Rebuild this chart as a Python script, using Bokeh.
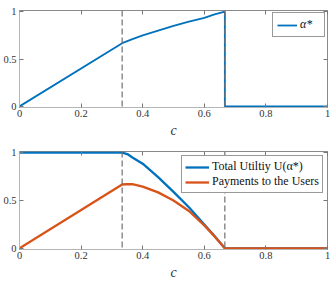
from bokeh.plotting import figure
from bokeh.layouts import column
from bokeh.models import Span, FixedTicker, LinearAxis, Legend, LegendItem, Range1d
from bokeh.embed import file_html
from bokeh.resources import INLINE

# ---- data ----
c_alpha = [0.0, 0.3333, 0.3667, 0.4, 0.45, 0.5, 0.55, 0.6, 0.6333, 0.6667, 0.6667, 1.0]
alpha = [0.0, 0.667, 0.71, 0.75, 0.80, 0.85, 0.895, 0.935, 0.97, 1.0, 0.0, 0.0]

c_util = [0.0, 0.3333, 0.35, 0.3667, 0.4, 0.45, 0.5, 0.55, 0.6, 0.6333, 0.6667, 1.0]
utility = [1.0, 1.0, 0.985, 0.95, 0.885, 0.745, 0.59, 0.43, 0.25, 0.13, 0.0, 0.0]

c_pay = [0.0, 0.3333, 0.35, 0.3667, 0.4, 0.45, 0.5, 0.55, 0.6, 0.6333, 0.6667, 1.0]
payments = [0.0, 0.667, 0.672, 0.67, 0.645, 0.585, 0.50, 0.39, 0.24, 0.125, 0.0, 0.0]

dashed_top = [0.3333, 0.6667]
dashed_bottom = [0.3333, 0.6667]

x_ticks = [0, 0.2, 0.4, 0.6, 0.8, 1]
x_tick_labels = {0: "0", 0.2: "0.2", 0.4: "0.4", 0.6: "0.6", 0.8: "0.8", 1: "1"}
y_ticks = [0, 0.5, 1]
y_tick_labels = {0: "0", 0.5: "0.5", 1: "1"}
x_label = "c"

BLUE = "#0072BD"
ORANGE = "#D95319"
FONT = "Liberation Serif"
FRAME = "#8a8a8a"
TXT = "#333333"


def make_fig(height, top_border, bottom_border):
    p = figure(width=333, height=height, output_backend="svg", toolbar_location=None,
               x_range=Range1d(0, 1), y_range=Range1d(-0.012, 1.012),
               min_border_left=0, min_border_right=6, min_border_top=top_border,
               min_border_bottom=bottom_border, x_axis_label=x_label)
    p.xgrid.visible = False
    p.ygrid.visible = False
    p.outline_line_color = FRAME
    p.outline_line_width = 1
    p.background_fill_color = "white"
    p.border_fill_color = "white"
    for ax in p.xaxis + p.yaxis:
        ax.axis_line_color = "#b5b5b5"
        ax.major_tick_line_color = "#777777"
        ax.major_tick_in = 4
        ax.major_tick_out = 0
        ax.minor_tick_line_color = None
        ax.major_label_text_font = FONT
        ax.major_label_text_font_size = "10.5px"
        ax.major_label_text_color = TXT
    p.yaxis.major_label_standoff = 3
    p.xaxis.major_label_standoff = 2
    p.xaxis.ticker = FixedTicker(ticks=x_ticks)
    p.xaxis.major_label_overrides = x_tick_labels
    p.yaxis.ticker = FixedTicker(ticks=y_ticks)
    p.yaxis.major_label_overrides = y_tick_labels
    p.xaxis.axis_label_text_font = FONT
    p.xaxis.axis_label_text_font_style = "italic"
    p.xaxis.axis_label_text_font_size = "14px"
    p.xaxis.axis_label_text_color = TXT
    p.xaxis.axis_label_standoff = 3
    top = LinearAxis(ticker=FixedTicker(ticks=x_ticks), major_label_text_font_size="1px",
                     major_label_text_color=None,
                     axis_line_color=None, major_tick_in=4, major_tick_out=0,
                     major_tick_line_color="#777777", minor_tick_line_color=None,
                     major_label_standoff=0)
    right = LinearAxis(ticker=FixedTicker(ticks=y_ticks), major_label_text_font_size="1px",
                       major_label_text_color=None,
                       axis_line_color=None, major_tick_in=4, major_tick_out=0,
                       major_tick_line_color="#777777", minor_tick_line_color=None,
                       major_label_standoff=0)
    p.add_layout(top, "above")
    p.add_layout(right, "right")
    return p


def style_legend(leg, pad, glyph_w):
    leg.label_text_font = FONT
    leg.label_text_font_size = "12px"
    leg.label_text_color = "#111111"
    leg.border_line_color = "#333333"
    leg.border_line_width = 1
    leg.background_fill_alpha = 1
    leg.glyph_width = glyph_w
    leg.glyph_height = 12
    leg.label_height = 12
    leg.label_standoff = 3
    leg.spacing = 0
    leg.padding = pad


# ---- top panel ----
p1 = make_fig(140, 10, 31)
for loc in dashed_top:
    p1.add_layout(Span(location=loc, dimension="height", line_color="#707070",
                       line_dash="6 3", line_width=1.2))
r_a = p1.line(c_alpha, alpha, line_color=BLUE, line_width=1.8)
leg1 = Legend(items=[LegendItem(label="α*", renderers=[r_a])], location="top_right", margin=2)
style_legend(leg1, 4, 20)
leg1.label_text_font_style = "italic"
p1.add_layout(leg1, "center")

# ---- bottom panel ----
p2 = make_fig(142, 11, 31)
for loc in dashed_bottom:
    p2.add_layout(Span(location=loc, dimension="height", line_color="#707070",
                       line_dash="6 3", line_width=1.2))
r_u = p2.line(c_util, utility, line_color=BLUE, line_width=2.3)
r_p = p2.line(c_pay, payments, line_color=ORANGE, line_width=2.3)
leg2 = Legend(items=[LegendItem(label="Total Utiltiy U(α*)", renderers=[r_u]),
                     LegendItem(label="Payments to the Users", renderers=[r_p])],
              location="top_right", margin=4)
style_legend(leg2, 3, 24)
p2.add_layout(leg2, "center")

layout = column(p1, p2, spacing=0)
open("out.html", "w").write(file_html(layout, INLINE))
